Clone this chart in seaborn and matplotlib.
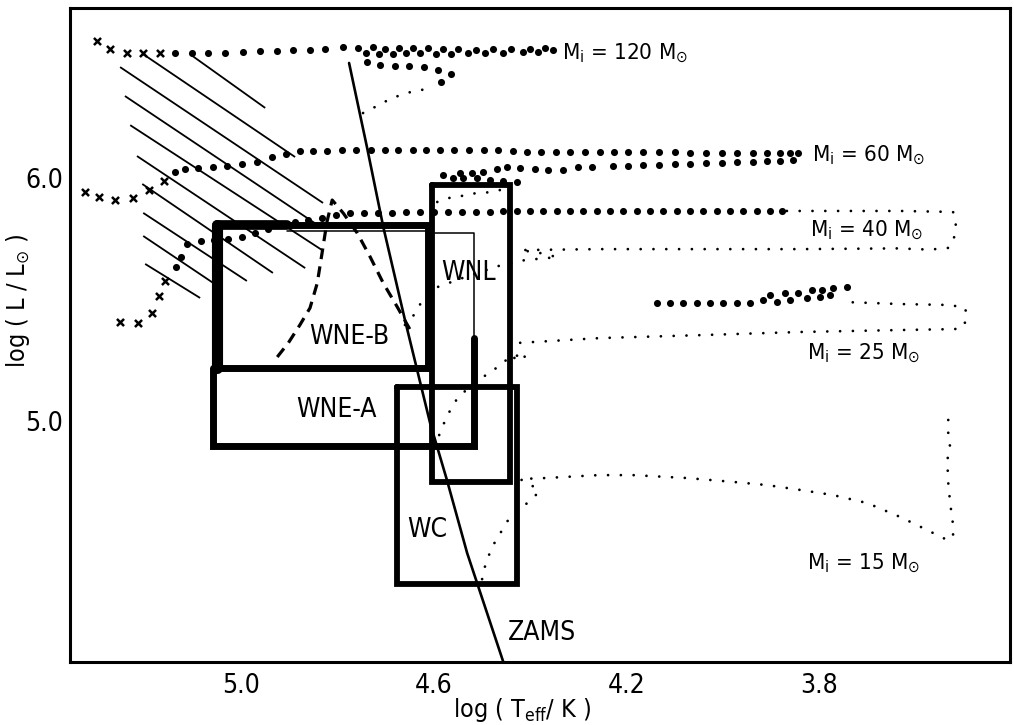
import numpy as np
import pandas as pd
import matplotlib
matplotlib.use("Agg")
import matplotlib.pyplot as plt
import seaborn as sns

# --- style ---
sns.set_theme(style="white")
plt.rcParams['font.family'] = ['DejaVu Sans']
plt.rcParams['font.stretch'] = 'condensed'
plt.rcParams['mathtext.default'] = 'regular'
INK = "black"

# --- evolutionary tracks (log Teff, log L) ---
# 120 Msun
t120_ms_T = [4.747, 4.718, 4.687, 4.649, 4.629, 4.598]
t120_ms_L = [6.266, 6.295, 6.328, 6.352, 6.361, 6.365]
t120_loop_T = [4.585, 4.564, 4.591, 4.620, 4.651, 4.681, 4.712, 4.739]
t120_loop_L = [6.394, 6.427, 6.443, 6.455, 6.459, 6.459, 6.464, 6.476]
t120_back_T = [4.741, 4.714, 4.685, 4.658, 4.629, 4.595, 4.564, 4.529, 4.494, 4.456, 4.415, 4.384]
t120_back_L = [6.513, 6.509, 6.509, 6.513, 6.513, 6.509, 6.509, 6.513, 6.513, 6.513, 6.517, 6.517]
t120_dots_T = [4.353, 4.369, 4.400, 4.440, 4.477, 4.512, 4.550, 4.581, 4.612, 4.643, 4.672, 4.701, 4.726,
               4.757, 4.788, 4.826, 4.857, 4.892, 4.925, 4.961, 4.996, 5.033, 5.068, 5.102, 5.137]
t120_dots_L = [6.525, 6.534, 6.529, 6.529, 6.529, 6.525, 6.529, 6.529, 6.534, 6.534, 6.534, 6.529, 6.538,
               6.534, 6.538, 6.529, 6.525, 6.525, 6.521, 6.521, 6.517, 6.513, 6.513, 6.513, 6.513]
t120_cross_T = [5.168, 5.203, 5.237, 5.272, 5.299]
t120_cross_L = [6.513, 6.513, 6.513, 6.529, 6.562]

# 60 Msun
t60_ms_T = [4.593, 4.571, 4.550, 4.529, 4.504, 4.479, 4.463, 4.438]
t60_ms_L = [5.900, 5.916, 5.920, 5.933, 5.937, 5.941, 5.949, 5.957]
t60_hook_T = [4.427, 4.456, 4.483, 4.510, 4.539, 4.560, 4.581, 4.546, 4.521, 4.498, 4.469, 4.448,
              4.421, 4.390, 4.363, 4.332, 4.301, 4.272, 4.228, 4.197, 4.166, 4.133, 4.100, 4.068,
              4.035, 4.002, 3.971, 3.938, 3.909, 3.882, 3.855]
t60_hook_L = [5.982, 5.986, 5.990, 5.999, 5.999, 5.999, 6.011, 6.019, 6.019, 6.023, 6.036, 6.044,
              6.040, 6.036, 6.031, 6.031, 6.044, 6.044, 6.048, 6.048, 6.052, 6.052, 6.056, 6.056,
              6.060, 6.060, 6.064, 6.064, 6.068, 6.068, 6.073]
t60_top_T = [3.844, 3.861, 3.882, 3.909, 3.938, 3.971, 4.002, 4.035, 4.068, 4.100, 4.133, 4.166,
             4.197, 4.226, 4.255, 4.286, 4.317, 4.346, 4.378, 4.407, 4.436, 4.467, 4.496, 4.527,
             4.558, 4.587, 4.616, 4.643, 4.674, 4.701, 4.730, 4.761, 4.790, 4.822, 4.851, 4.878,
             4.907, 4.936, 4.967, 4.998, 5.029, 5.058, 5.089, 5.116, 5.137]
t60_top_L = [6.101, 6.101, 6.101, 6.102, 6.102, 6.102, 6.103, 6.103, 6.103, 6.104, 6.104, 6.104,
             6.105, 6.105, 6.106, 6.106, 6.106, 6.106, 6.107, 6.107, 6.110, 6.112, 6.112, 6.112,
             6.113, 6.113, 6.114, 6.114, 6.114, 6.114, 6.112, 6.112, 6.112, 6.110, 6.110, 6.110,
             6.097, 6.085, 6.064, 6.056, 6.048, 6.044, 6.040, 6.036, 6.023]
t60_cross_T = [5.160, 5.191, 5.224, 5.261, 5.295, 5.324]
t60_cross_L = [5.986, 5.949, 5.916, 5.908, 5.920, 5.941]

# 40 Msun
t40_ms_T = [4.660, 4.643, 4.627, 4.598, 4.535, 4.467, 4.411, 4.344, 4.380, 4.421, 4.255, 4.048,
            3.840, 3.639, 3.571, 3.533, 3.523, 3.519, 3.517, 3.523, 3.633, 3.737, 3.878]
t40_ms_L = [5.394, 5.431, 5.484, 5.546, 5.591, 5.636, 5.661, 5.673, 5.690, 5.702, 5.706, 5.706,
            5.706, 5.709, 5.704, 5.711, 5.735, 5.772, 5.818, 5.859, 5.863, 5.863, 5.863]
t40_dots_T = [3.878, 3.902, 3.929, 3.959, 3.986, 4.012, 4.041, 4.068, 4.095, 4.124, 4.151, 4.178,
              4.207, 4.234, 4.261, 4.290, 4.317, 4.344, 4.373, 4.400, 4.427, 4.456, 4.483, 4.512,
              4.541, 4.571, 4.600, 4.629, 4.658, 4.687, 4.716, 4.745, 4.774, 4.803, 4.832, 4.861,
              4.888, 4.913, 4.944, 4.971, 4.998, 5.027, 5.056, 5.083, 5.112, 5.124, 5.135]
t40_dots_L = [5.863, 5.863, 5.863, 5.863, 5.863, 5.863, 5.863, 5.863, 5.863, 5.863, 5.863, 5.863,
              5.863, 5.863, 5.863, 5.863, 5.863, 5.863, 5.863, 5.863, 5.863, 5.863, 5.859, 5.859,
              5.859, 5.859, 5.859, 5.859, 5.859, 5.854, 5.854, 5.854, 5.854, 5.846, 5.834, 5.826,
              5.817, 5.805, 5.789, 5.772, 5.756, 5.748, 5.743, 5.739, 5.727, 5.673, 5.632]
t40_cross_T = [5.158, 5.170, 5.185, 5.214, 5.251]
t40_cross_L = [5.575, 5.513, 5.443, 5.402, 5.406]

# 25 Msun
t25_ms_T = [4.589, 4.573, 4.550, 4.525, 4.498, 4.479, 4.463, 4.442, 4.421, 4.407, 4.425, 4.448,
            4.425, 4.255, 4.048, 3.840, 3.633, 3.519, 3.502, 3.494, 3.498, 3.529, 3.633, 3.743]
t25_ms_L = [4.941, 5.019, 5.097, 5.139, 5.180, 5.204, 5.229, 5.262, 5.270, 5.270, 5.245, 5.283,
            5.320, 5.340, 5.352, 5.365, 5.373, 5.377, 5.385, 5.426, 5.464, 5.476, 5.480, 5.488]
t25_dots_T = [3.743, 3.772, 3.778, 3.795, 3.799, 3.815, 3.826, 3.844, 3.861, 3.871, 3.888, 3.902,
              3.917, 3.944, 3.971, 4.000, 4.027, 4.054, 4.083, 4.110, 4.137]
t25_dots_L = [5.550, 5.546, 5.517, 5.538, 5.509, 5.538, 5.505, 5.525, 5.497, 5.525, 5.488, 5.517,
              5.497, 5.484, 5.484, 5.484, 5.484, 5.484, 5.484, 5.484, 5.484]

# 15 Msun
t15_T = [4.500, 4.492, 4.477, 4.456, 4.446, 4.415, 4.400, 4.384, 4.386, 4.405, 4.421, 4.369,
         4.259, 4.187, 4.075, 3.979, 3.909, 3.840, 3.772, 3.701, 3.633, 3.585, 3.535, 3.523,
         3.523, 3.529, 3.533, 3.535, 3.529, 3.533, 3.533]
t15_L = [4.348, 4.418, 4.488, 4.558, 4.591, 4.645, 4.674, 4.702, 4.723, 4.739, 4.760, 4.764,
         4.776, 4.776, 4.764, 4.748, 4.735, 4.715, 4.694, 4.661, 4.604, 4.558, 4.509, 4.521,
         4.571, 4.661, 4.744, 4.838, 4.892, 4.933, 5.044]

# ZAMS and the dashed boundary
zams_T = [4.776, 4.739, 4.705, 4.660, 4.608, 4.573, 4.531, 4.456]
zams_L = [6.472, 6.127, 5.797, 5.414, 4.991, 4.756, 4.455, 4.007]
dash_T = [4.925, 4.902, 4.878, 4.857, 4.842, 4.832, 4.822, 4.811, 4.788, 4.759, 4.732, 4.705, 4.676, 4.649]
dash_L = [5.262, 5.320, 5.394, 5.464, 5.566, 5.690, 5.817, 5.908, 5.854, 5.772, 5.673, 5.566, 5.468, 5.373]

# hatched region: start and end of each stroke
hatch_T0 = [5.106, 5.203, 5.251, 5.241, 5.230, 5.216, 5.205, 5.203, 5.203, 5.199]
hatch_L0 = [6.508, 6.508, 6.455, 6.336, 6.216, 6.089, 5.974, 5.855, 5.760, 5.645]
hatch_T1 = [4.950, 4.888, 4.830, 4.832, 4.832, 4.867, 4.934, 4.988, 5.058, 5.085]
hatch_L1 = [6.287, 6.085, 5.896, 5.793, 5.702, 5.628, 5.608, 5.575, 5.567, 5.505]

# WR boxes: hot edge, cool edge, low L, high L
box_names = ["WNE-B", "WNL", "WC"]
box_T_hot = [5.050, 4.604, 4.676]
box_T_cool = [4.612, 4.442, 4.427]
box_L_low = [5.217, 4.748, 4.328]
box_L_high = [5.805, 5.970, 5.139]
box_lw = [5.0, 4.2, 4.2]
# WNE-A is open at the top right
wnea_T = [5.058, 5.058, 4.517, 4.517]
wnea_L = [5.217, 4.896, 4.896, 5.340]
wnea_thin_T = [4.517, 4.517, 4.598]
wnea_thin_L = [5.340, 5.772, 5.772]

region_labels = ["WNE-B", "WNE-A", "WNL", "WC"]
region_T = [4.776, 4.803, 4.529, 4.614]
region_L = [5.344, 5.044, 5.608, 4.550]

mass_labels = ["120", "60", "40", "25", "15"]
mass_T = [4.334, 3.815, 3.819, 3.826, 3.826]
mass_L = [6.513, 6.093, 5.785, 5.278, 4.414]

fig = plt.figure(figsize=(10.14, 7.25), dpi=100)
ax = fig.add_axes([0.069, 0.0869, 0.927, 0.902])

DOT_LS = (0, (0.01, 4.6))


def dotted(T, L):
    sns.lineplot(x=T, y=L, sort=False, estimator=None, color=INK, lw=2.0,
                 linestyle=DOT_LS, dash_capstyle='round', ax=ax, legend=False)


def dots(T, L):
    sns.scatterplot(x=T, y=L, marker='o', s=26, color=INK, linewidth=0, ax=ax,
                    legend=False, zorder=4)


def crosses(T, L):
    sns.scatterplot(x=T, y=L, marker='x', s=26, color=INK, linewidth=1.8, ax=ax,
                    legend=False, zorder=4)


# hatching
for a, b, c, d in zip(hatch_T0, hatch_L0, hatch_T1, hatch_L1):
    ax.plot([a, c], [b, d], color=INK, lw=1.3, solid_capstyle='butt')

# tracks
dotted(t120_ms_T, t120_ms_L)
dots(t120_loop_T, t120_loop_L)
dots(t120_back_T, t120_back_L)
dots(t120_dots_T, t120_dots_L)
crosses(t120_cross_T, t120_cross_L)

dotted(t60_ms_T, t60_ms_L)
dots(t60_hook_T, t60_hook_L)
dots(t60_top_T, t60_top_L)
crosses(t60_cross_T, t60_cross_L)

dotted(t40_ms_T, t40_ms_L)
dots(t40_dots_T, t40_dots_L)
crosses(t40_cross_T, t40_cross_L)

dotted(t25_ms_T, t25_ms_L)
dots(t25_dots_T, t25_dots_L)

dotted(t15_T, t15_L)

# ZAMS and dashed line
sns.lineplot(x=zams_T, y=zams_L, sort=False, estimator=None, color=INK, lw=1.9, ax=ax)
sns.lineplot(x=dash_T, y=dash_L, sort=False, estimator=None, color=INK, lw=2.3,
             linestyle=(0, (3.4, 2.3)), ax=ax)

# boxes
for th, tc, lo, hi, lw in zip(box_T_hot, box_T_cool, box_L_low, box_L_high, box_lw):
    ax.plot([th, tc, tc, th, th], [hi, hi, lo, lo, hi], color=INK, lw=lw,
            solid_joinstyle='miter', zorder=3)
# extra heavy hot edge of WNE-B and thin inner top line
ax.plot([box_T_hot[0], box_T_hot[0]], [box_L_low[0], box_L_high[0]], color=INK, lw=8, zorder=3)
ax.plot([box_T_hot[0], 4.905], [box_L_high[0], box_L_high[0]], color=INK, lw=7, zorder=3)
ax.plot([4.905, box_T_cool[0]], [5.780, 5.780], color=INK, lw=1.1, zorder=3)
ax.plot(wnea_T, wnea_L, color=INK, lw=5.0, solid_joinstyle='miter', zorder=3)
ax.plot(wnea_thin_T, wnea_thin_L, color=INK, lw=1.1, zorder=3)

# labels
SUN = "\u2299"
for name, t, l in zip(region_labels, region_T, region_L):
    ax.text(t, l, name, fontsize=19, ha='center', va='center', color=INK)
ax.text(4.446, 4.126, "ZAMS", fontsize=19, ha='left', va='center', color=INK)
for m, t, l in zip(mass_labels, mass_T, mass_L):
    ax.text(t, l, r"M$_{\rm i}$ = " + m + " M$_{" + SUN + "}$", fontsize=16, ha='left',
            va='center', color=INK)

# axes
ax.set_xlim(5.355, 3.405)
ax.set_ylim(4.007, 6.698)
xt = [5.2, 5.0, 4.8, 4.6, 4.4, 4.2, 4.0, 3.8, 3.6]
ax.set_xticks(xt)
ax.set_xticklabels(["", "5.0", "", "4.6", "", "4.2", "", "3.8", ""])
yt = [4.5, 5.0, 5.5, 6.0, 6.5]
ax.set_yticks(yt)
ax.set_yticklabels(["", "5.0", "", "6.0", ""])
ax.tick_params(axis='both', direction='in', length=7, width=2.2, colors=INK, labelsize=19)
ax.tick_params(axis='x', pad=8)
ax.tick_params(axis='y', pad=5)
for s in ax.spines.values():
    s.set_color(INK)
    s.set_linewidth(2.2)

ax.set_xlabel(r"log ( T$_{\rm eff}$/ K )", fontsize=18, color=INK)
ax.set_ylabel("log ( L / L$_{" + SUN + "}$ )", fontsize=18, color=INK)
ax.xaxis.set_label_coords(0.481, -0.052)
ax.yaxis.set_label_coords(-0.040, 0.553)

fig.savefig("out.png", dpi=100)
